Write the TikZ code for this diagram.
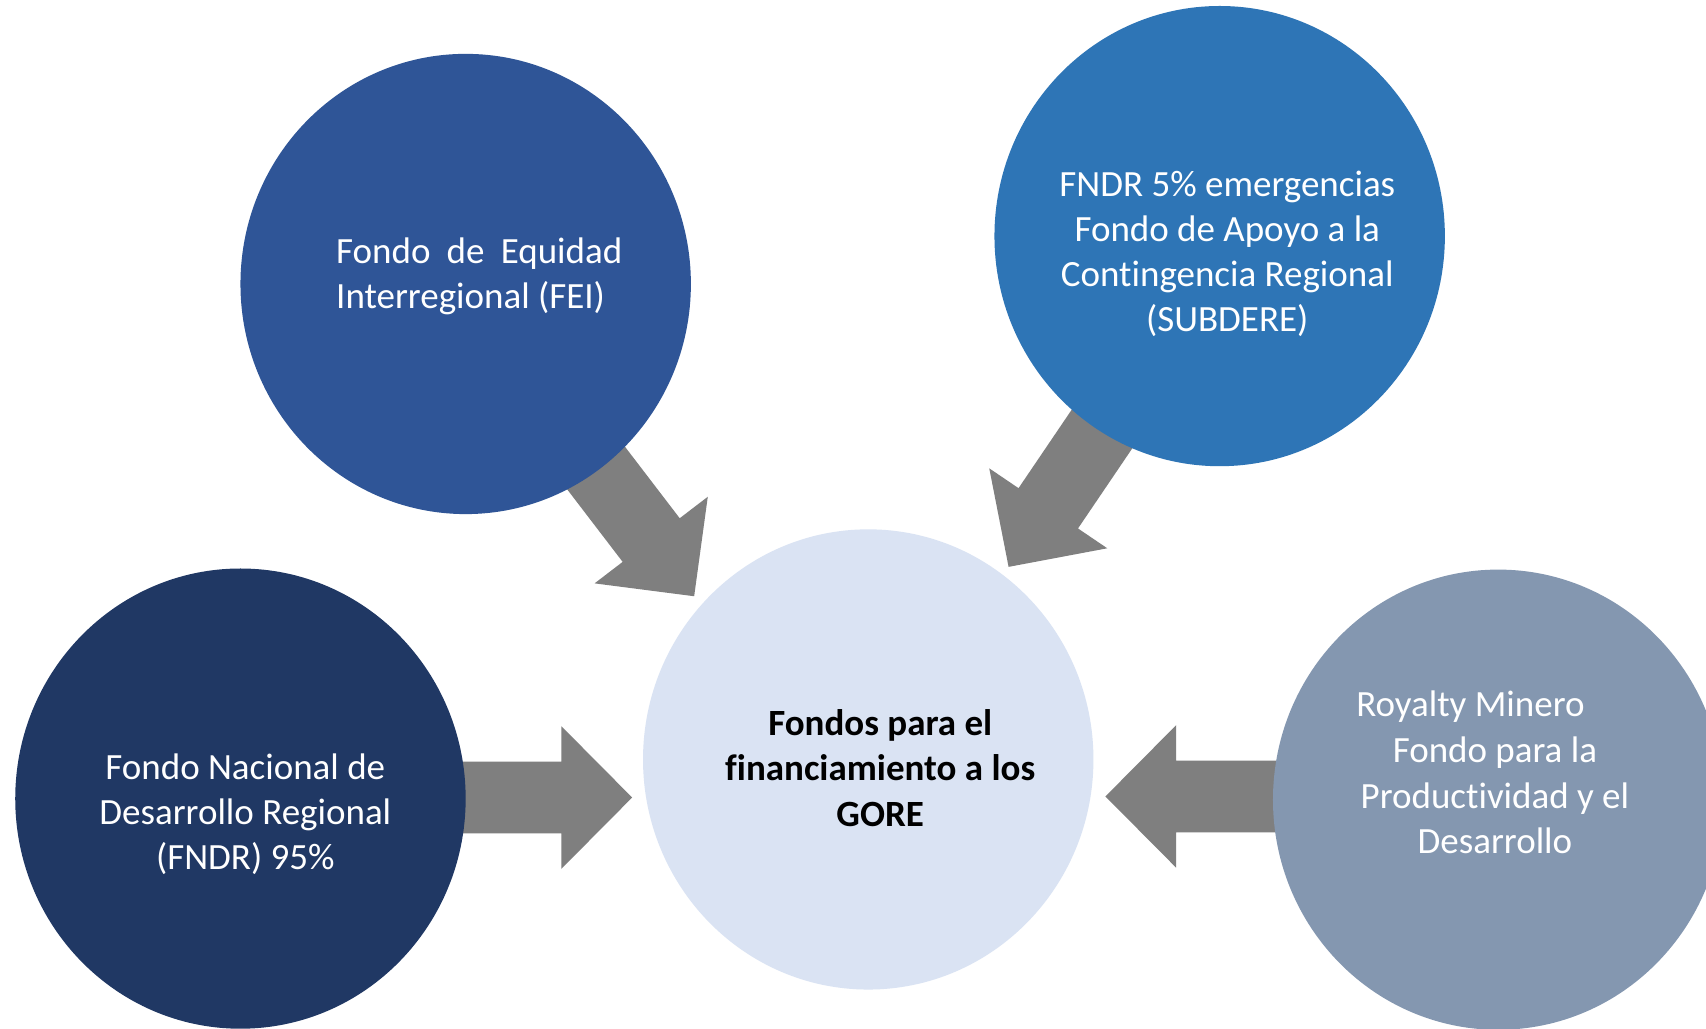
\documentclass[tikz,border=0pt]{standalone}
\usepackage{fontspec}
\setmainfont{Carlito}[Ligatures={NoCommon}]
\usetikzlibrary{shapes.geometric,calc}
\definecolor{cFEI}{HTML}{2F5597}
\definecolor{cSUB}{HTML}{2E75B6}
\definecolor{cFNDR}{HTML}{203864}
\definecolor{cGORE}{HTML}{DAE3F3}
\definecolor{cROY}{HTML}{8497B0}
\definecolor{cArrow}{HTML}{7F7F7F}
\tikzset{
  disc/.style={ellipse, minimum width=414pt, minimum height=423pt, inner sep=0pt, draw=none},
  lbl/.style={text=white, font=\fontsize{34}{41.4}\selectfont, align=center, inner sep=0pt},
  blockarrow/.style={fill=cArrow, draw=none},
}
% #1 = start coordinate, #2 = tip coordinate
\newcommand\blockarr[2]{%
  \coordinate (#1-h) at ($(#2)!65pt!(#1)$);
  \fill[blockarrow] ($(#1)!33pt!90:(#2)$) -- ($(#1-h)!33pt!90:(#2)$)
     -- ($(#1-h)!65.5pt!90:(#2)$) -- (#2) -- ($(#1-h)!65.5pt!-90:(#2)$)
     -- ($(#1-h)!33pt!-90:(#2)$) -- ($(#1)!33pt!-90:(#2)$) -- cycle;
}
\begin{document}
\begin{tikzpicture}[x=1pt,y=-1pt]
\useasboundingbox (0,0) rectangle (1568,945);
\clip (0,0) rectangle (1568,945);
\fill[white] (0,0) rectangle (1568,945);

% connector end points
\coordinate (fndr-out) at (418,733);
\coordinate (fndr-tip) at (581,733);
\coordinate (roy-out) at (1180,732);
\coordinate (roy-tip) at (1016,732);
\coordinate (fei-out) at (539,418.6);
\coordinate (fei-tip) at (638,548);
\coordinate (sub-out) at (1018,386.7);
\coordinate (sub-tip) at (927,521);

% block arrows (under the circles)
\blockarr{fndr-out}{fndr-tip}
\blockarr{roy-out}{roy-tip}
\blockarr{fei-out}{fei-tip}
\blockarr{sub-out}{sub-tip}

% circles
\node[disc, fill=cFEI] (fei) at (428,261) {};
\node[disc, fill=cSUB] (sub) at (1121,217) {};
\node[disc, fill=cFNDR] (fndr) at (221,734) {};
\node[disc, fill=cGORE] (gore) at (798,698) {};
\node[disc, fill=cROY] (roy) at (1377,735) {};

% texts
\node[lbl, align=left] (fei-t) at (440.5,254)
  {\hbox to 263pt{Fondo\hfil de\hfil Equidad}\\Interregional (FEI)};
\node[lbl] (sub-t) at (1128,233.3)
  {FNDR 5\% emergencias\\Fondo de Apoyo a la\\Contingencia Regional\\(SUBDERE)};
\node[lbl] (fndr-t) at (225.5,748)
  {Fondo Nacional de\\Desarrollo Regional\\(FNDR) 95\%};
\node[lbl, text=black, font=\fontsize{34}{41.4}\selectfont\bfseries] (gore-t) at (809,706)
  {Fondos para el\\financiamiento a los\\GORE};
\node[lbl, font=\fontsize{34}{42}\selectfont] (roy-t) at (1374,710)
  {Royalty Minero\hspace*{45pt}\\Fondo para la\\Productividad y el\\Desarrollo};
\end{tikzpicture}
\end{document}
